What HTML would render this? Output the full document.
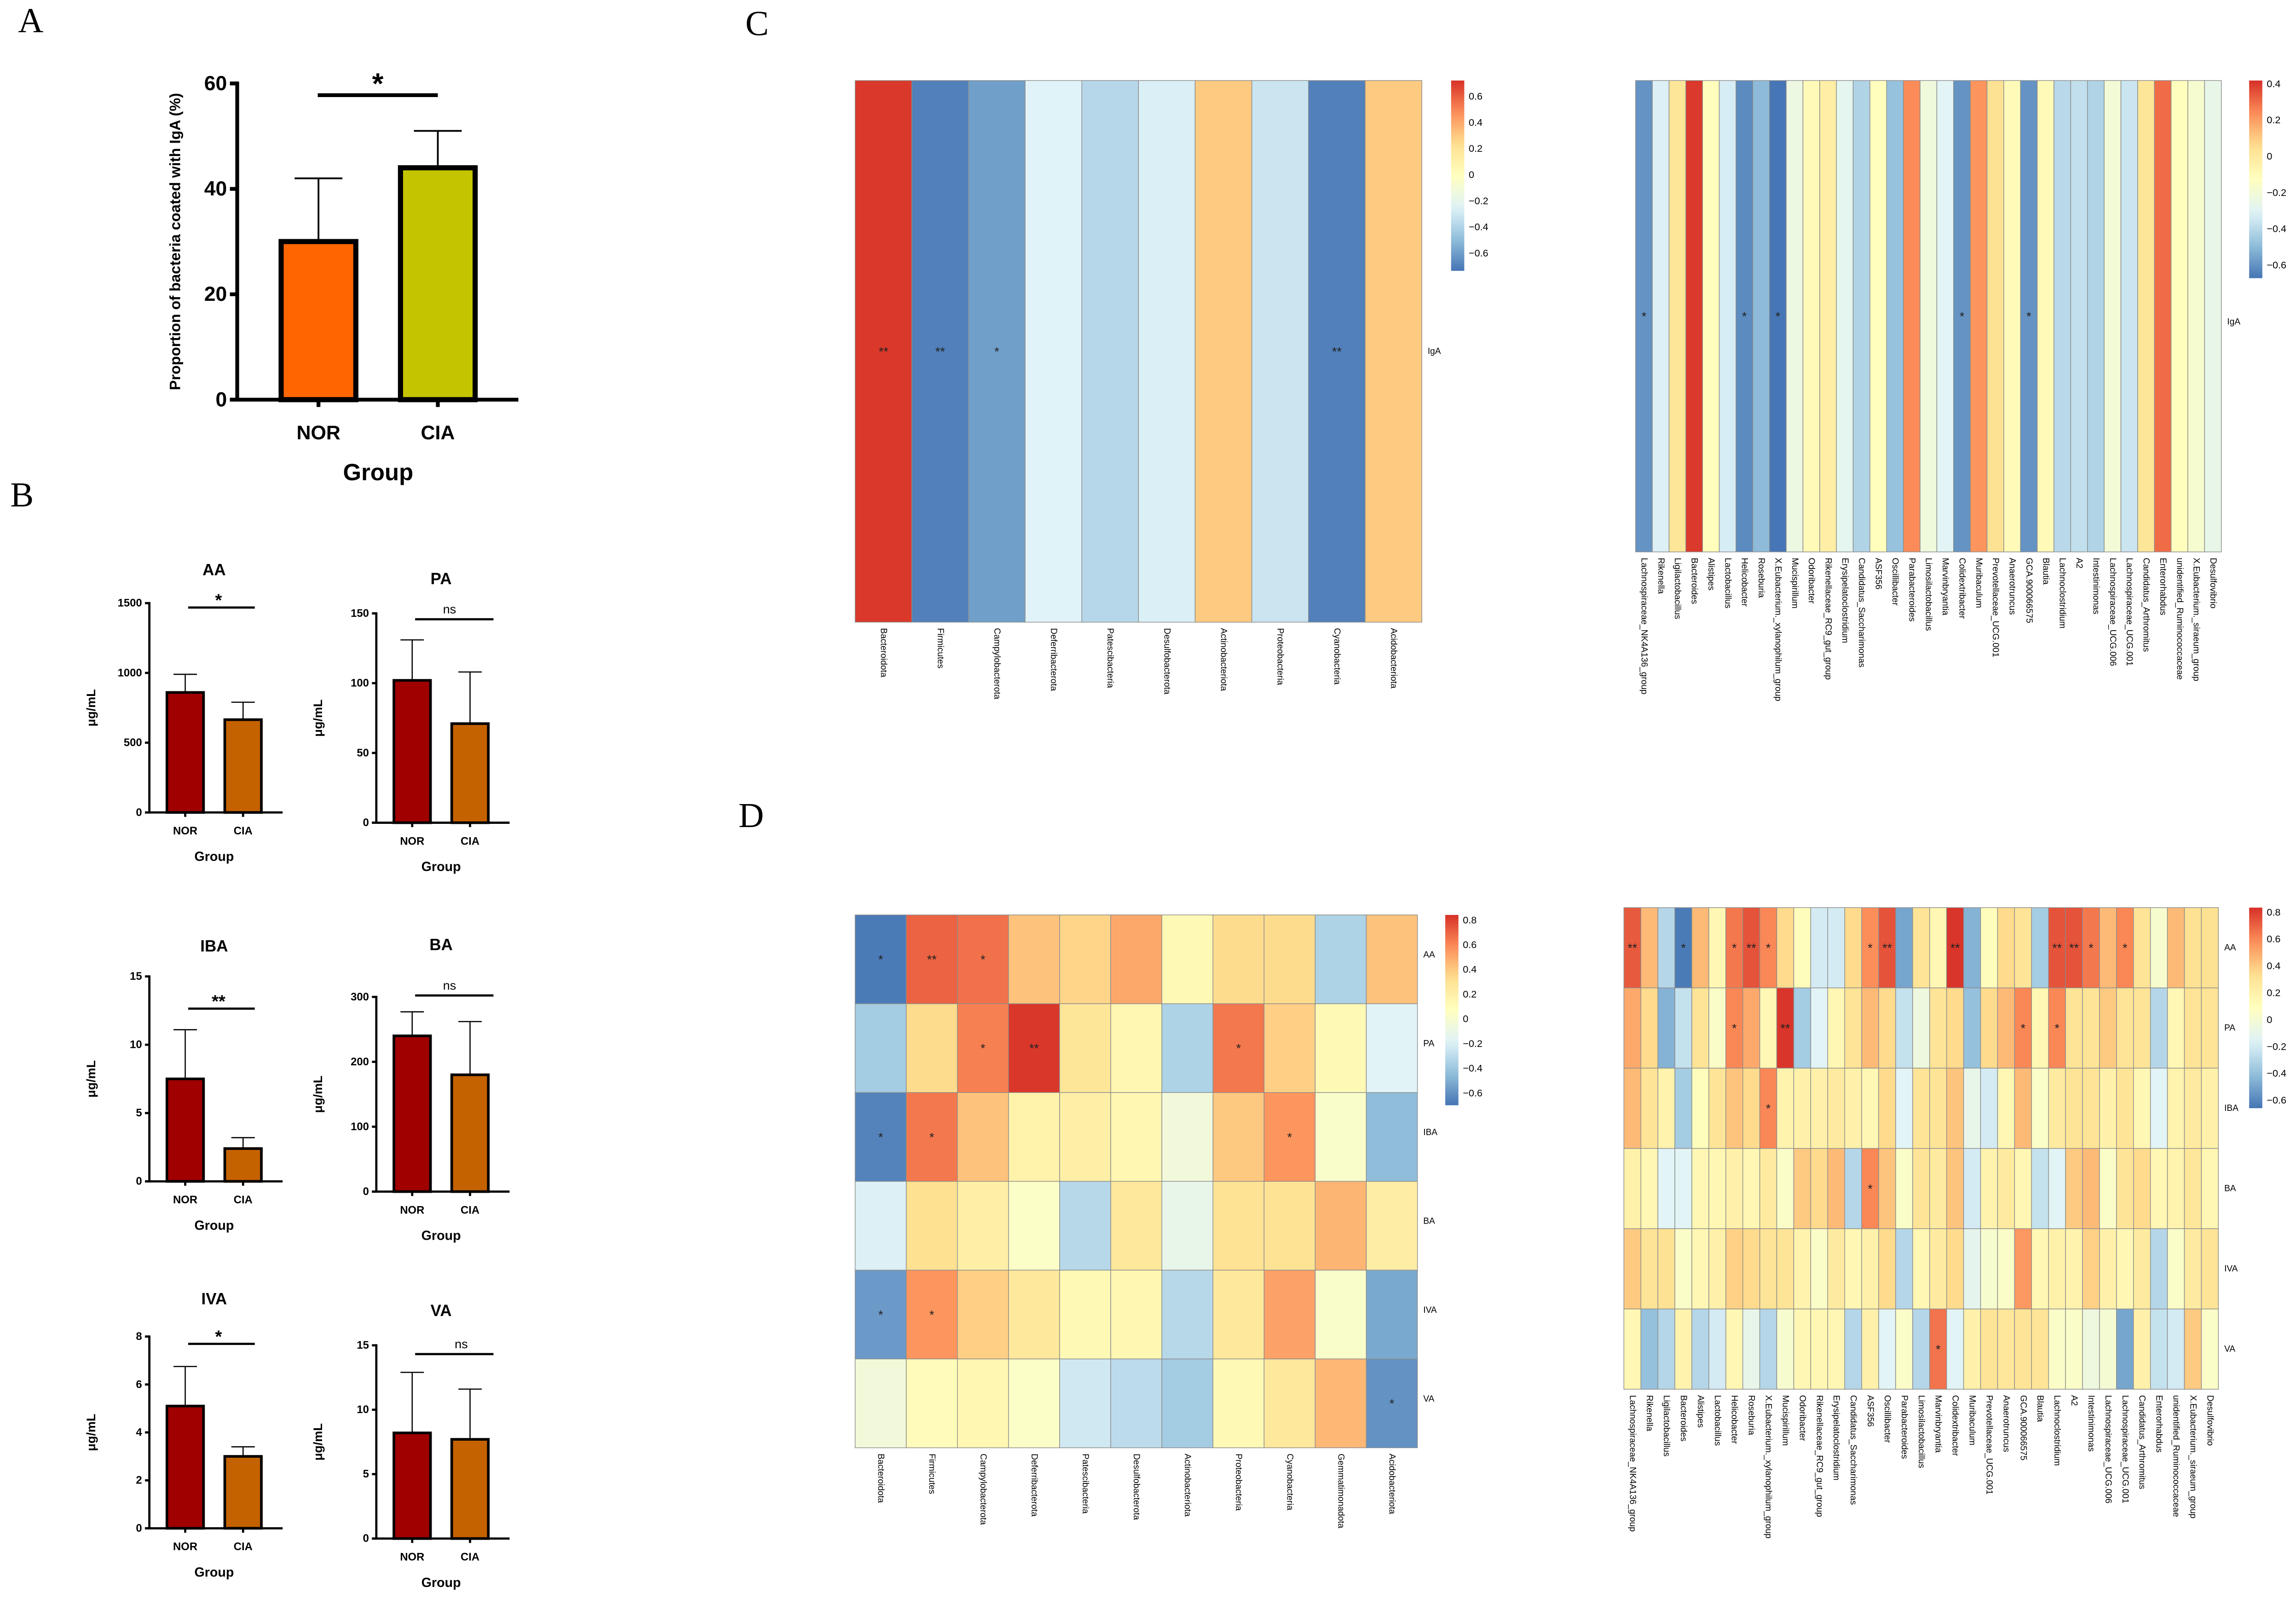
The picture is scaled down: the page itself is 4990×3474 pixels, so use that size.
<!DOCTYPE html>
<html><head><meta charset="utf-8">
<style>
html,body{margin:0;padding:0;background:#fff;}
svg{display:block;}
</style></head>
<body>
<svg id="fig" xmlns="http://www.w3.org/2000/svg" width="4990" height="3474" viewBox="0 0 1568 1091.6"></svg>
<script>
// ---------- Panel A data ----------
const aGroups = ['NOR','CIA'];
const aMeans = [30, 44];
const aErrs = [42, 51];
const aTicks = [0,20,40,60];

// ---------- Panel B data ----------
const bTitles = ['AA','PA','IBA','BA','IVA','VA'];
const bMeans = [[860,665],[102,71],[7.5,2.4],[240,180],[5.1,3.0],[8.2,7.7]];
const bErrs = [[990,790],[131,108],[11.1,3.2],[277,262],[6.75,3.4],[12.9,11.6]];
const bMax = [1500,150,15,300,8,15];
const bTicks = [[0,500,1000,1500],[0,50,100,150],[0,5,10,15],[0,100,200,300],[0,2,4,6,8],[0,5,10,15]];
const bSig = ['*','ns','**','ns','*','ns'];

// ---------- Heatmap data ----------
const phylaC = ['Bacteroidota','Firmicutes','Campylobacterota','Deferribacterota','Patescibacteria','Desulfobacterota','Actinobacteriota','Proteobacteria','Cyanobacteria','Acidobacteriota'];
const cLeftVals = [[0.70,-0.70,-0.60,-0.25,-0.38,-0.27,0.30,-0.32,-0.70,0.30]];
const cLeftStars = [{0:'**',1:'**',2:'*',8:'**'}];
const cLeftTicks = [0.6,0.4,0.2,0,-0.2,-0.4,-0.6];

const genera = ['Lachnospiraceae_NK4A136_group','Rikenella','Ligilactobacillus','Bacteroides','Alistipes','Lactobacillus','Helicobacter','Roseburia','X.Eubacterium._xylanophilum_group','Mucispirillum','Odoribacter','Rikenellaceae_RC9_gut_group','Erysipelatoclostridium','Candidatus_Saccharimonas','ASF356','Oscillibacter','Parabacteroides','Limosilactobacillus','Marvinbryantia','Colidextribacter','Muribaculum','Prevotellaceae_UCG.001','Anaerotruncus','GCA.900066575','Blautia','Lachnoclostridium','A2','Intestinimonas','Lachnospiraceae_UCG.006','Lachnospiraceae_UCG.001','Candidatus_Arthromitus','Enterorhabdus','unidentified_Ruminococcaceae','X.Eubacterium._siraeum_group','Desulfovibrio'];
const cRightVals = [[-0.60,-0.32,0.02,0.40,-0.12,-0.33,-0.62,-0.50,-0.67,-0.24,-0.10,-0.03,-0.28,-0.42,-0.12,-0.48,0.24,-0.22,-0.30,-0.60,0.22,0.04,-0.10,-0.60,-0.10,-0.40,-0.38,-0.42,-0.20,-0.36,0.02,0.30,-0.12,-0.18,-0.26]];
const cRightStars = [{0:'*',6:'*',8:'*',19:'*',23:'*'}];
const cRightTicks = [0.4,0.2,0,-0.2,-0.4,-0.6];

const acids = ['AA','PA','IBA','BA','IVA','VA'];
const phylaD = ['Bacteroidota','Firmicutes','Campylobacterota','Deferribacterota','Patescibacteria','Desulfobacterota','Actinobacteriota','Proteobacteria','Cyanobacteria','Gemmatimonadota','Acidobacteriota'];
const dLeftVals = [
 [-0.68,0.70,0.66,0.42,0.36,0.50,0.12,0.34,0.34,-0.35,0.42],
 [-0.38,0.34,0.62,0.82,0.28,0.14,-0.35,0.64,0.38,0.12,-0.18],
 [-0.65,0.64,0.42,0.18,0.20,0.14,-0.05,0.40,0.56,0.02,-0.45],
 [-0.20,0.32,0.20,0.04,-0.32,0.26,-0.12,0.30,0.30,0.46,0.22],
 [-0.57,0.56,0.38,0.26,0.12,0.14,-0.32,0.26,0.52,0.02,-0.52],
 [-0.05,0.10,0.14,0.04,-0.24,-0.30,-0.38,0.12,0.26,0.45,-0.60]];
const dLeftStars = [{0:'*',1:'**',2:'*'},{2:'*',3:'**',7:'*'},{0:'*',1:'*',8:'*'},{},{0:'*',1:'*'},{10:'*'}];
const dTicks = [0.8,0.6,0.4,0.2,0,-0.2,-0.4,-0.6];

const dRightVals = [
 [0.72,0.45,-0.30,-0.64,0.45,0.15,0.64,0.74,0.60,0.35,0.10,-0.20,-0.20,0.35,0.58,0.74,-0.50,0.30,0.15,0.82,-0.45,0.10,0.35,0.30,-0.35,0.74,0.74,0.64,0.45,0.60,0.30,0.02,0.45,0.32,0.32],
 [0.50,0.35,-0.45,-0.25,0.30,0.05,0.60,0.50,0.15,0.82,-0.35,-0.15,0.15,0.30,0.45,0.35,-0.25,-0.05,0.30,0.35,-0.40,0.35,0.45,0.60,0.15,0.60,0.30,0.30,0.40,0.30,0.30,-0.30,0.15,0.30,0.30],
 [0.45,0.30,0.18,-0.35,0.10,0.30,0.42,0.35,0.60,0.18,0.20,0.20,0.25,0.20,0.15,0.35,-0.15,0.30,0.30,0.42,-0.10,-0.20,0.15,0.45,0.05,0.25,0.30,0.30,0.20,0.30,0.15,-0.15,0.18,0.25,0.20],
 [0.20,0.15,-0.15,-0.15,0.15,0.15,0.20,0.15,0.25,0.05,0.40,0.35,0.45,-0.30,0.60,0.42,0.05,0.30,0.25,0.42,-0.20,0.18,0.25,0.15,-0.25,-0.15,0.40,0.45,0.05,0.30,0.35,0.15,0.18,0.28,0.15],
 [0.40,0.30,0.32,0.05,0.15,0.20,0.38,0.35,0.30,0.30,0.18,0.05,0.25,0.15,0.20,0.35,-0.30,0.15,0.25,0.35,-0.12,0.02,0.05,0.55,0.15,0.20,0.18,0.38,0.20,0.15,0.25,-0.30,0.05,0.25,0.30],
 [0.15,-0.40,-0.30,0.18,-0.30,-0.20,0.15,-0.10,-0.30,0.02,0.15,0.15,0.15,-0.30,0.20,-0.15,0.05,-0.30,0.65,-0.15,0.20,0.30,0.28,0.30,0.30,0.05,0.05,-0.05,0.00,-0.50,0.20,-0.25,-0.20,0.40,0.05]];
const dRightStars = [{0:'**',3:'*',6:'*',7:'**',8:'*',14:'*',15:'**',19:'**',25:'**',26:'**',27:'*',29:'*'},{6:'*',9:'**',23:'*',25:'*'},{8:'*'},{14:'*'},{},{18:'*'}];

// ---------- helpers ----------
const NS='http://www.w3.org/2000/svg';
const svg=document.getElementById('fig');
function mk(tag,attrs,parent){const e=document.createElementNS(NS,tag);for(const k in attrs)e.setAttribute(k,attrs[k]);(parent||svg).appendChild(e);return e;}
function txt(s,attrs,parent){const t=mk('text',attrs,parent);t.textContent=s;return t;}
const SANS='"Liberation Sans", Arial, sans-serif';
const PAL=['#4575B4','#91BFDB','#E0F3F8','#FFFFBF','#FEE090','#FC8D59','#D73027'];
function hex(h){return [1,3,5].map(i=>parseInt(h.substr(i,2),16));}
function col(v,min,max){let t=(v-min)/(max-min);t=Math.max(0,Math.min(1,t));const p=t*(PAL.length-1);const i=Math.min(PAL.length-2,Math.floor(p));const f=p-i;const a=hex(PAL[i]),b=hex(PAL[i+1]);return 'rgb('+a.map((x,k)=>Math.round(x+(b[k]-x)*f)).join(',')+')';}

// panel letters
[['A',21,22],['B',15,346],['C',517,24],['D',513,565]].forEach(([l,x,y])=>{
  const t=txt(l,{x:x,y:y,'font-family':'"Liberation Serif", serif','font-size':24,'text-anchor':'middle'});
  
  
});

// ---------- bar chart ----------
function barChart(c){
  const g=mk('g',{});
  
  
  const y=v=>c.bot-(v/c.max)*(c.bot-c.top);
  c.means.forEach((m,i)=>{
    const cx=c.cx[i];
    const e=mk('line',{x1:cx,x2:cx,y1:y(m),y2:y(c.errs[i]),stroke:'#000','stroke-width':c.ew},g);
    
    
    const cap=mk('line',{x1:cx-c.bw*0.32,x2:cx+c.bw*0.32,y1:y(c.errs[i]),y2:y(c.errs[i]),stroke:'#000','stroke-width':c.ew},g);
    
    
    const r=mk('rect',{x:cx-c.bw/2,y:y(m),width:c.bw,height:c.bot-y(m),fill:c.colors[i],stroke:'#000','stroke-width':c.bs},g);
    
    
    const tk=mk('line',{x1:cx,x2:cx,y1:c.bot,y2:c.bot+c.tl,stroke:'#000','stroke-width':c.as},g);
    
    
    const lb=txt(c.groups[i],{x:cx,y:c.bot+c.lo,'font-family':SANS,'font-weight':'bold','font-size':c.lf,'text-anchor':'middle'},g);
    
    
  });
  const ya=mk('line',{x1:c.ax,x2:c.ax,y1:c.top,y2:c.bot,stroke:'#000','stroke-width':c.as,'stroke-linecap':'square'},g);
  
  
  const xa=mk('line',{x1:c.ax-c.tl,x2:c.xEnd,y1:c.bot,y2:c.bot,stroke:'#000','stroke-width':c.as},g);
  
  
  c.ticks.forEach(t=>{
    const l=mk('line',{x1:c.ax-c.tl,x2:c.ax,y1:y(t),y2:y(t),stroke:'#000','stroke-width':c.as},g);
    
    
    const tl=txt(String(t),{x:c.ax-c.tl-2,y:y(t),'dominant-baseline':'central','font-family':SANS,'font-weight':'bold','font-size':c.tf,'text-anchor':'end'},g);
    
    
  });
  const gt=txt('Group',{x:(c.cx[0]+c.cx[1])/2,y:c.bot+c.go,'font-family':SANS,'font-weight':'bold','font-size':c.gf,'text-anchor':'middle'},g);
  
  
  const yc=(c.top+c.bot)/2;
  const yt=txt(c.ytitle,{x:c.ytx,y:yc,'font-family':SANS,'font-weight':'bold','font-size':c.yf,'text-anchor':'middle',transform:'rotate(-90 '+c.ytx+' '+yc+')'},g);
  
  
  if(c.title){
    const tt=txt(c.title,{x:(c.cx[0]+c.cx[1])/2,y:c.titleY,'font-family':SANS,'font-weight':'bold','font-size':c.titf,'text-anchor':'middle'},g);
    
    
  }
  const sl=mk('line',{x1:c.sx1,x2:c.sx2,y1:c.sy,y2:c.sy,stroke:'#000','stroke-width':c.as},g);
  
  
  const isNs=c.sig==='ns';
  const st=txt(c.sig,{x:c.sigx,y:c.sy-(isNs?4:1),'font-family':SANS,'font-weight':isNs?'normal':'bold','font-size':isNs?c.nsf:c.sf,'text-anchor':'middle'},g);
  
  
}

barChart({name:'igA-bar-chart',groups:aGroups,means:aMeans,errs:aErrs,ticks:aTicks,max:60,
  ax:162,top:57,bot:273,cx:[217.5,299],bw:51,xEnd:354,colors:['#FF6600','#C4C400'],
  ew:1.2,bs:3.5,as:2.6,tl:5,lf:13.5,lo:27,tf:14,gf:16,go:55,yf:10.2,ytx:123,
  ytitle:'Proportion of bacteria coated with IgA (%)',title:null,
  sx1:217,sx2:299,sy:65,sig:'*',sigx:258,sf:20,nsf:9});

const bPos=[
 {ax:102,top:412,bot:555,off:0,titleY:393,sy:415},
 {ax:257,top:419,bot:562,off:155,titleY:399,sy:423},
 {ax:102,top:667,bot:807,off:0,titleY:650,sy:689},
 {ax:257,top:681,bot:814,off:155,titleY:649,sy:680},
 {ax:102,top:913,bot:1044,off:0,titleY:891,sy:918},
 {ax:257,top:919,bot:1051,off:155,titleY:899,sy:925}];
bTitles.forEach((t,i)=>{
  const p=bPos[i];
  const cx=[126.5+p.off,166+p.off];
  barChart({name:'bar-chart-'+t.toLowerCase(),groups:aGroups,means:bMeans[i],errs:bErrs[i],ticks:bTicks[i],max:bMax[i],
    ax:p.ax,top:p.top,bot:p.bot,cx:cx,bw:25,xEnd:p.ax+91,colors:['#A00000','#C46200'],
    ew:0.8,bs:1.8,as:1.5,tl:3,lf:7.5,lo:15,tf:7.5,gf:9,go:33,yf:8.5,ytx:p.ax-37,
    ytitle:'μg/mL',title:t,titleY:p.titleY,titf:11,
    sx1:cx[0]+2,sx2:cx[1]+8+(p.off?8:0),sy:p.sy,sig:bSig[i],sigx:(p.off? 307+ (i===5?8:0):(cx[0]+cx[1])/2+3),sf:12,nsf:8.5});
});

// ---------- heatmaps ----------
function heatmap(h){
  const g=mk('g',{});
  
  
  const nr=h.rows.length,nc=h.cols.length;
  const cw=(h.x1-h.x0)/nc,rh=(h.y1-h.y0)/nr;
  h.vals.forEach((row,r)=>{
    row.forEach((v,c)=>{
      const rc=mk('rect',{x:h.x0+c*cw,y:h.y0+r*rh,width:cw,height:rh,fill:col(v,h.min,h.max),stroke:'#8c8c8c','stroke-width':0.45},g);
      
      
      const s=h.stars[r][c];
      if(s){
        const st=txt(s,{x:h.x0+(c+0.5)*cw,y:h.y0+(r+0.5)*rh+3,'font-family':SANS,'font-size':8.5,'text-anchor':'middle',fill:'#222'},g);
        
        
      }
    });
  });
  h.rows.forEach((r,i)=>{
    const t=txt(r,{x:h.x1+4,y:h.y0+(i+0.5)*rh+h.rowDy,'font-family':SANS,'font-size':h.fs,'dominant-baseline':'central'},g);
    
    
  });
  h.cols.forEach((cn,i)=>{
    const x=h.x0+(i+0.5)*cw,y=h.y1+4;
    const t=txt(cn,{x:x,y:y,'font-family':SANS,'font-size':h.fs,'dominant-baseline':'central',transform:'rotate(90 '+x+' '+y+')'},g);
    
    
  });
  const gid='grad-'+h.name;
  const defs=mk('defs',{},g);
  const lg=mk('linearGradient',{id:gid,x1:0,y1:0,x2:0,y2:1},defs);
  for(let k=0;k<=20;k++){const v=h.max-(h.max-h.min)*k/20;mk('stop',{offset:(k*5)+'%','stop-color':col(v,h.min,h.max)},lg);}
  const cb=mk('rect',{x:h.cbx,y:h.cby0,width:9,height:h.cby1-h.cby0,fill:'url(#'+gid+')'},g);
  
  
  const cy=v=>h.cby0+(h.max-v)/(h.max-h.min)*(h.cby1-h.cby0);
  h.ticks.forEach(v=>{
    const t=txt(v<0?'\u2212'+Math.abs(v):String(v),{x:h.cbx+12,y:cy(v),'font-family':SANS,'font-size':h.cfs,'dominant-baseline':'central'},g);
    
    
  });
}

heatmap({name:'heatmap-c-phylum-iga',rows:['IgA'],cols:phylaC,vals:cLeftVals,stars:cLeftStars,min:-0.737,max:0.72,
  x0:584,x1:971,y0:55,y1:425,fs:6,rowDy:0,cbx:991,cby0:55,cby1:185,ticks:cLeftTicks,cfs:6.8});
heatmap({name:'heatmap-c-genus-iga',rows:['IgA'],cols:genera,vals:cRightVals,stars:cRightStars,min:-0.673,max:0.417,
  x0:1117,x1:1517,y0:55,y1:377,fs:6,rowDy:4,cbx:1536,cby0:55,cby1:190,ticks:cRightTicks,cfs:6.8});
heatmap({name:'heatmap-d-phylum-scfa',rows:acids,cols:phylaD,vals:dLeftVals,stars:dLeftStars,min:-0.70,max:0.84,
  x0:584,x1:968,y0:625,y1:989,fs:6,rowDy:-3,cbx:987,cby0:625,cby1:755,ticks:dTicks,cfs:6.8});
heatmap({name:'heatmap-d-genus-scfa',rows:acids,cols:genera,vals:dRightVals,stars:dRightStars,min:-0.66,max:0.833,
  x0:1109,x1:1515,y0:620,y1:949,fs:6,rowDy:0,cbx:1536,cby0:620,cby1:757,ticks:dTicks,cfs:6.8});
</script>
</body></html>
